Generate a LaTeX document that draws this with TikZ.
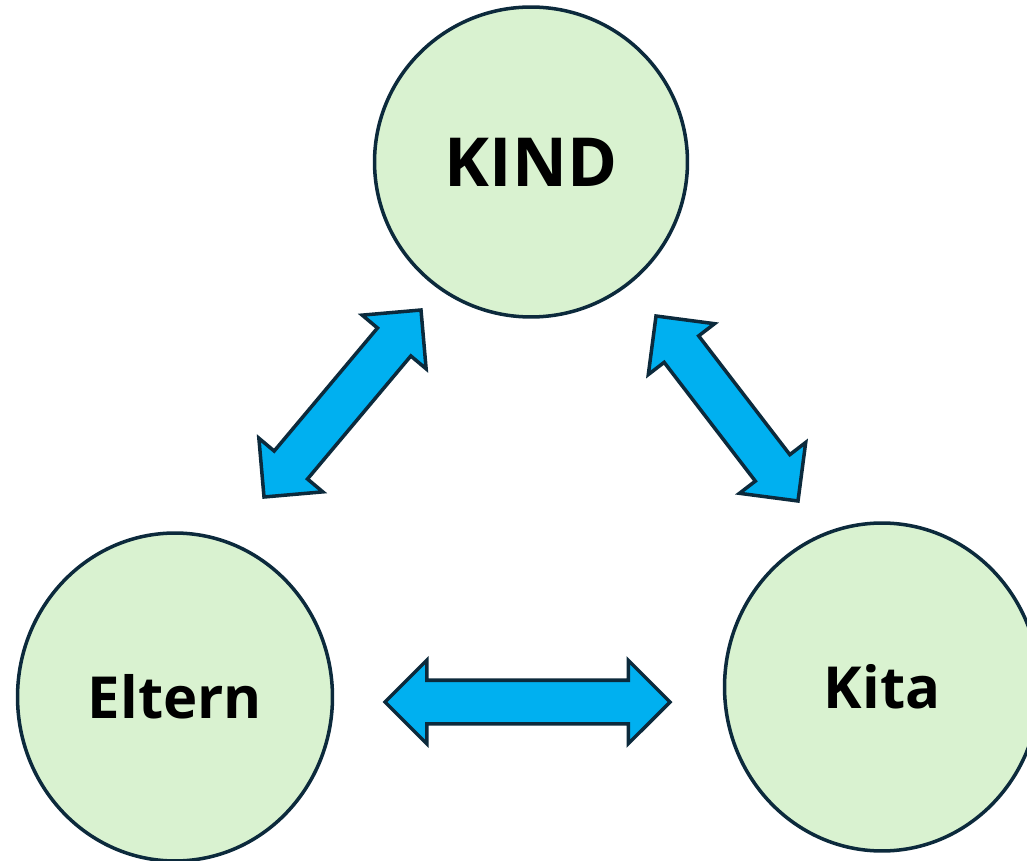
\documentclass[tikz,border=0pt]{standalone}
\usepackage{fontspec}
\setmainfont{Open Sans}
\usetikzlibrary{shapes.geometric,shapes.arrows,calc}

\definecolor{kreisgruen}{HTML}{D9F2D0}
\definecolor{randblau}{HTML}{0C2A3C}
\definecolor{pfeilblau}{HTML}{00B0F0}

\tikzset{
  kreis/.style={ellipse,draw=randblau,fill=kreisgruen,line width=2pt,inner sep=0pt,
    font=\bfseries\fontsize{33}{36}\selectfont},
  doppelpfeil/.style={double arrow,draw=randblau,fill=pfeilblau,line width=2pt,
    inner xsep=0pt,inner ysep=0.4cm,minimum width=1.6cm,
    double arrow head extend=0.4cm,double arrow tip angle=90}
}

% block arrow between two named points
\newcommand{\pfeil}[3]{%
  \path let \p1=($(#3)-(#2)$), \n1={atan2(\y1,\x1)}, \n2={veclen(\x1,\y1)} in
    node[doppelpfeil,rotate=\n1,minimum height=\n2] (#1) at ($(#2)!0.5!(#3)$) {};}

\begin{document}
\begin{tikzpicture}[x=0.02cm,y=-0.02cm]
    \useasboundingbox (0,0) rectangle (1027,861);

    \node[kreis,minimum width=6.26cm,minimum height=6.2cm,
      font=\bfseries\fontsize{38.5}{40}\selectfont] (kind) at (531,162) {KIND};
    \node[kreis,minimum width=6.3cm,minimum height=6.56cm] (eltern) at (175,697) {Eltern};
    \node[kreis,minimum width=6.3cm,minimum height=6.56cm] (kita) at (882,687) {Kita};

    \coordinate (e1) at (264,497);
    \coordinate (k1) at (421,310);
    \coordinate (k2) at (656,316);
    \coordinate (t2) at (798,501);
    \coordinate (e3) at (385,702);
    \coordinate (t3) at (670,702);

    \pfeil{ek}{e1}{k1}
    \pfeil{kt}{k2}{t2}
    \pfeil{et}{e3}{t3}
\end{tikzpicture}
\end{document}
